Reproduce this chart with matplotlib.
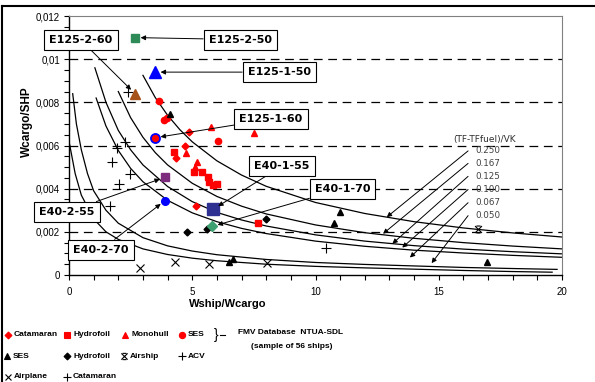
import numpy as np
import matplotlib.pyplot as plt
from matplotlib.path import Path
from matplotlib.ticker import MultipleLocator, FixedLocator

plt.rcParams['font.family'] = ['Liberation Sans', 'DejaVu Sans']

# iso-lines of (TF-TFfuel)/VK, read point by point
tf_labels = ["0.250", "0.167", "0.125", "0.100", "0.067", "0.050"]
c250_x = [3.0, 3.5, 4.0, 4.5, 5.0, 6.0, 7.0, 8.0, 10.0, 12.0, 14.0, 16.0, 18.0, 20.0]
c250_y = [0.00925, 0.00822, 0.0074, 0.00673, 0.00617, 0.00529, 0.00463, 0.00411,
          0.00336, 0.00285, 0.00247, 0.00218, 0.00195, 0.00176]
c167_x = [2.0, 2.5, 3.0, 3.5, 4.0, 5.0, 6.0, 7.0, 8.0, 10.0, 12.0, 14.0, 16.0, 18.0, 20.0]
c167_y = [0.0085, 0.00729, 0.00638, 0.00567, 0.0051, 0.00425, 0.00364, 0.00319,
          0.00283, 0.00232, 0.00196, 0.0017, 0.0015, 0.00134, 0.00121]
c125_x = [1.05, 1.5, 2.0, 2.5, 3.0, 4.0, 5.0, 6.0, 7.0, 8.0, 10.0, 12.0, 14.0, 16.0, 18.0, 20.0]
c125_y = [0.0096, 0.0080, 0.0067, 0.0058, 0.0051, 0.0041, 0.0034, 0.0029, 0.00255,
          0.00227, 0.00186, 0.00157, 0.00136, 0.0012, 0.00108, 0.00098]
c100_x = [1.1, 1.5, 2.0, 2.5, 3.0, 4.0, 5.0, 6.0, 7.0, 8.0, 10.0, 12.0, 14.0, 16.0, 18.0, 20.0]
c100_y = [0.0082, 0.0069, 0.00577, 0.00494, 0.00432, 0.00346, 0.00288, 0.00247,
          0.00216, 0.00192, 0.00157, 0.00133, 0.00115, 0.00102, 0.00091, 0.00082]
c067_x = [0.15, 0.3, 0.5, 0.75, 1.0, 1.5, 2.0, 3.0, 4.0, 5.0, 6.0, 8.0, 10.0, 12.0,
          14.0, 16.0, 18.0, 19.8]
c067_y = [0.0084, 0.0070, 0.0058, 0.0047, 0.0039, 0.0030, 0.0024, 0.00173, 0.00135,
          0.00111, 0.00094, 0.00072, 0.00058, 0.00049, 0.00042, 0.00035, 0.0003, 0.00026]
c050_x = [0.0, 0.25, 0.5, 1.0, 1.5, 2.0, 3.0, 4.0, 5.0, 6.0, 8.0, 10.0, 12.0, 14.0,
          16.0, 18.0, 19.6]
c050_y = [0.0062, 0.0047, 0.0037, 0.0026, 0.0020, 0.00165, 0.00121, 0.00095, 0.00078,
          0.00066, 0.0005, 0.0004, 0.00033, 0.00027, 0.00021, 0.00016, 0.00013]

# FMV database ships
cat_red_x = [4.88, 4.70, 4.33, 5.15]
cat_red_y = [0.00662, 0.00597, 0.0054, 0.00322]
hyd_red_x = [4.26, 5.07, 5.38, 5.65, 5.69, 5.85, 5.99, 7.65]
hyd_red_y = [0.00571, 0.00479, 0.00479, 0.00456, 0.00432, 0.00417, 0.00422, 0.0024]
mono_red_x = [5.75, 7.50, 4.73, 5.20, 5.11]
mono_red_y = [0.00687, 0.0066, 0.00566, 0.00525, 0.0050]
ses_red_x = [3.66, 3.85, 3.99, 6.04]
ses_red_y = [0.00805, 0.0072, 0.00728, 0.0062]

# NTUA-SDL ships and other vehicles
ses_blk_x = [4.10, 6.50, 6.65, 11.0, 10.76, 16.95]
ses_blk_y = [0.00748, 0.0006, 0.00075, 0.00294, 0.0024, 0.00058]
hyd_blk_x = [4.80, 5.58, 7.99]
hyd_blk_y = [0.00201, 0.00212, 0.0026]
airship_x = [16.6]
airship_y = [0.00214]
acv_x = [2.27, 1.93, 1.73, 2.46, 10.41]
acv_y = [0.00617, 0.0059, 0.00522, 0.00468, 0.00125]
airplane_x = [2.90, 4.29, 5.69, 8.02]
airplane_y = [0.00032, 0.00058, 0.0005, 0.00055]
cat_blk_x = [2.02, 1.65, 2.41]
cat_blk_y = [0.00422, 0.0032, 0.00848]

# design points
des_names = ["E125-2-50", "E125-2-60", "E125-1-50", "E125-1-60",
             "E40-1-55", "E40-1-70", "E40-2-55", "E40-2-70"]
des_x = [2.68, 2.68, 3.49, 3.49, 5.86, 5.81, 3.90, 3.90]
des_y = [0.0110, 0.0084, 0.0094, 0.00636, 0.00305, 0.00225, 0.00453, 0.00345]

fig = plt.figure(figsize=(5.95, 3.82), dpi=100)
ax = fig.add_axes([69 / 595, 1 - 275 / 382, 493 / 595, 259 / 382])

for yv in [0.002, 0.004, 0.006, 0.008, 0.010]:
    ax.axhline(yv, color='black', lw=0.9, dashes=(7, 4.5), zorder=1)

curves = [(c250_x, c250_y), (c167_x, c167_y), (c125_x, c125_y),
          (c100_x, c100_y), (c067_x, c067_y), (c050_x, c050_y)]
for cx, cy in curves:
    ax.plot(cx, cy, color='black', lw=0.9, zorder=2)

mk = dict(ls='none', zorder=3)
ax.plot(cat_red_x, cat_red_y, 'D', color='red', ms=3.5, **mk)
ax.plot(hyd_red_x, hyd_red_y, 's', color='red', ms=4.5, **mk)
ax.plot(mono_red_x, mono_red_y, '^', color='red', ms=5, **mk)
ax.plot(ses_red_x, ses_red_y, 'o', color='red', ms=4.5, **mk)
ax.plot(ses_blk_x, ses_blk_y, '^', color='black', ms=5, **mk)
ax.plot(hyd_blk_x, hyd_blk_y, 'D', color='black', ms=3.5, **mk)

airship_marker = Path([(-1, -1), (1, 1), (-1, 1), (1, -1), (-0.6, 1), (0.6, 1),
                       (-0.6, -1), (0.6, -1)],
                      [Path.MOVETO, Path.LINETO, Path.MOVETO, Path.LINETO,
                       Path.MOVETO, Path.LINETO, Path.MOVETO, Path.LINETO])
ax.plot(airship_x, airship_y, marker=airship_marker, color='black', ms=5, mew=0.8, **mk)
ax.plot(acv_x, acv_y, '+', color='black', ms=7, mew=0.8, **mk)
ax.plot(cat_blk_x, cat_blk_y, '+', color='black', ms=7, mew=0.8, **mk)
ax.plot(airplane_x, airplane_y, 'x', color='black', ms=6, mew=0.8, **mk)

# design markers
des_style = [
    dict(marker='s', color='#2E8B57', ms=6),
    dict(marker='^', color='#A5521B', ms=7),
    dict(marker='^', color='#0000FF', ms=8),
    dict(marker='o', mfc='red', mec='#0000FF', mew=1.3, ms=6.5),
    dict(marker='s', color='#2E3192', ms=8),
    dict(marker='D', color='#3CA070', ms=5),
    dict(marker='s', color='#7D2C7D', ms=5.5),
    dict(marker='o', color='#0000FF', ms=5.5),
]
for i in range(len(des_names)):
    ax.plot(des_x[i], des_y[i], ls='none', zorder=4, **des_style[i])

label_pos = [(6.94, 0.01091), (0.49, 0.01087), (8.52, 0.0094), (8.19, 0.00722),
             (8.64, 0.00505), (11.1, 0.0040), (-0.08, 0.00292), (1.30, 0.00117)]
for name, px, py, (tx, ty) in zip(des_names, des_x, des_y, label_pos):
    ax.annotate(name, xy=(px, py), xytext=(tx, ty), ha='center', va='center',
                fontsize=8, fontweight='bold', family='DejaVu Sans',
                bbox=dict(boxstyle='square,pad=0.45', fc='white', ec='black', lw=0.8),
                arrowprops=dict(arrowstyle='-|>', color='black', lw=0.7,
                                mutation_scale=7, shrinkA=0, shrinkB=4),
                annotation_clip=False, zorder=5)

# key for the iso-lines
ax.text(15.58, 0.00629, '(TF-TFfuel)/VK', fontsize=6.5, family='DejaVu Sans',
        color='#303030', va='center')
tip_x = [12.89, 12.74, 13.12, 13.52, 13.83, 14.71]
tip_y = [0.00268, 0.00191, 0.00145, 0.00127, 0.00081, 0.00055]
lab_y = [0.00575, 0.00517, 0.00457, 0.00396, 0.00335, 0.00275]
for lab, tx, ty, ly in zip(tf_labels, tip_x, tip_y, lab_y):
    ax.text(16.47, ly, lab, fontsize=6.3, family='DejaVu Sans', color='#404040', va='center')
    ax.annotate('', xy=(tx, ty), xytext=(16.19, ly),
                arrowprops=dict(arrowstyle='-|>', color='black', lw=0.7,
                                mutation_scale=7, shrinkA=0, shrinkB=0))

ax.set_xlim(0, 20)
ax.set_ylim(0, 0.012)
ax.xaxis.set_major_locator(FixedLocator([0, 5, 10, 15, 20]))
ax.xaxis.set_minor_locator(MultipleLocator(1))
ax.yaxis.set_major_locator(FixedLocator([0, 0.002, 0.004, 0.006, 0.008, 0.010, 0.012]))
ax.yaxis.set_minor_locator(MultipleLocator(0.0005))
ax.set_yticklabels(['0', '0,002', '0,004', '0,006', '0,008', '0,01', '0,012'])
ax.set_xticklabels(['0', '5', '10', '15', '20'])
ax.tick_params(axis='x', which='both', direction='out', length=3.5, width=0.8,
               labelsize=7, pad=5)
ax.tick_params(axis='y', which='both', direction='out', length=3.5, width=0.8,
               labelsize=7, pad=3)
for s in ['top', 'right']:
    ax.spines[s].set_color('#808080')
    ax.spines[s].set_linewidth(0.8)
for s in ['left', 'bottom']:
    ax.spines[s].set_linewidth(1.0)

fig.text(228 / 595, 1 - 304 / 382, 'Wship/Wcargo', fontsize=8, fontweight='bold',
         ha='center', va='center')
fig.text(27 / 595, 1 - 122 / 382, 'Wcargo/SHP', fontsize=8.5, fontweight='bold',
         ha='center', va='center', rotation=90)

# legend strip below the chart, drawn in pixel units
lg = fig.add_axes([0, 0, 1, 1], zorder=-1)
lg.set_xlim(0, 595)
lg.set_ylim(382, 0)
lg.axis('off')
lg.plot([2, 595], [6, 6], color='black', lw=1.5)
lg.plot([2, 2], [6, 382], color='black', lw=1.5)

legend_rows = [
    (335, [('D', 'red', 3.5, 'Catamaran', 8), ('s', 'red', 4.5, 'Hydrofoil', 67),
           ('^', 'red', 5, 'Monohull', 125), ('o', 'red', 4.5, 'SES', 182)]),
    (356, [('^', 'black', 5, 'SES', 7), ('D', 'black', 3.5, 'Hydrofoil', 67),
           (airship_marker, 'black', 4.5, 'Airship', 124), ('+', 'black', 6, 'ACV', 182)]),
    (377, [('x', 'black', 5, 'Airplane', 8), ('+', 'black', 6, 'Catamaran', 67)]),
]
for ry, items in legend_rows:
    for m, col, size, text, mx in items:
        lg.plot(mx, ry, marker=m, color=col, ms=size, mew=0.8, ls='none')
        lg.text(mx + 6, ry, text, fontsize=6, fontweight='bold', va='center', ha='left')

lg.text(216, 335, '}', fontsize=10, va='center', ha='center')
lg.plot([220, 225], [335, 335], color='black', lw=0.8)
lg.text(291, 333, 'FMV Database  NTUA-SDL', fontsize=6, fontweight='bold',
        ha='center', va='center')
lg.text(292, 346, '(sample of 56 ships)', fontsize=6, fontweight='bold',
        ha='center', va='center')

fig.savefig('out.png', dpi=100)
